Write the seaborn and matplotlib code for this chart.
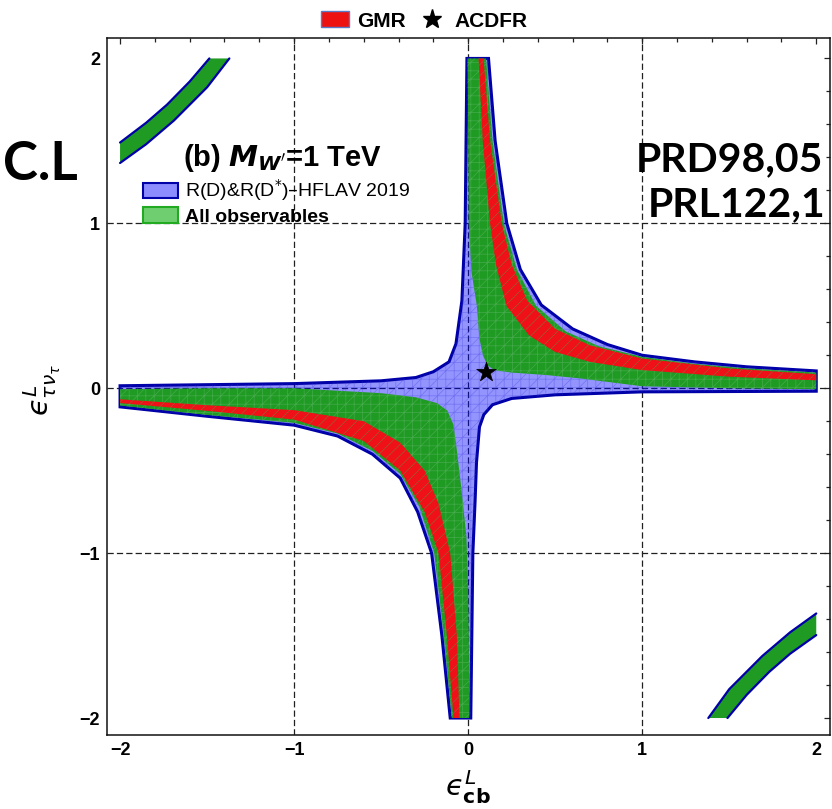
import matplotlib
matplotlib.use("Agg")
import matplotlib.pyplot as plt
import seaborn as sns
from matplotlib.patches import Patch
from matplotlib.lines import Line2D
from matplotlib.ticker import MultipleLocator, FixedLocator

# ---------------- data ----------------
ticks = [-2, -1, 0, 1, 2]

# blue region: R(D)&R(D*) - HFLAV 2019 (closed outline)
blue_x = [-0.007, 0.117, 0.155, 0.222, 0.30, 0.42, 0.60, 0.80, 1.00, 1.30, 1.60, 2.00,
          2.00, 1.00, 0.50, 0.25, 0.14, 0.09, 0.065, 0.048, 0.04, 0.027, 0.021, 0.015,
          -0.103, -0.151, -0.21, -0.29, -0.39, -0.55, -0.75, -1.00, -1.50, -2.00,
          -2.00, -1.00, -0.50, -0.30, -0.20, -0.11, -0.07, -0.036, -0.017]
blue_y = [2.0, 2.0, 1.5, 1.0, 0.72, 0.505, 0.36, 0.265, 0.20, 0.16, 0.13, 0.105,
          -0.018, -0.022, -0.04, -0.062, -0.10, -0.16, -0.235, -0.45, -0.68, -1.0, -1.5, -2.0,
          -2.0, -1.5, -1.0, -0.75, -0.545, -0.40, -0.29, -0.224, -0.17, -0.113,
          0.015, 0.028, 0.045, 0.065, 0.10, 0.16, 0.27, 0.53, 1.0]

# green region: all observables, upper-right band
green1_x = [0.103, 0.14, 0.205, 0.28, 0.39, 0.56, 0.75, 1.0, 1.3, 1.6, 2.0,
            2.0, 1.5, 1.0, 0.64, 0.45, 0.25, 0.15, 0.11, 0.085, 0.065, 0.05, 0.02, 0.003, 0.0, -0.004]
green1_y = [2.0, 1.5, 1.0, 0.72, 0.5, 0.345, 0.255, 0.19, 0.148, 0.12, 0.095,
            -0.006, 0.0, 0.012, 0.06, 0.08, 0.095, 0.11, 0.14, 0.2, 0.3, 0.5, 0.7, 1.0, 1.5, 2.0]
# green region: lower-left band
green3_x = [-2.0, -1.5, -1.0, -0.75, -0.55, -0.39, -0.28, -0.195, -0.14, -0.094,
            0.006, 0.004, 0.0, -0.01, -0.04, -0.065, -0.085, -0.12, -0.18, -0.3, -0.5, -1.0, -1.5, -2.0]
green3_y = [-0.105, -0.162, -0.21, -0.275, -0.38, -0.52, -0.72, -1.0, -1.5, -2.0,
            -2.0, -1.5, -1.2, -0.9, -0.6, -0.376, -0.22, -0.135, -0.09, -0.055, -0.03, 0.0, 0.0, -0.006]
# green corner bands
cornerA_x = [-2.0, -1.85, -1.73, -1.6, -1.487, -1.372, -1.5, -1.69, -1.85, -2.0]
cornerA_y = [1.49, 1.61, 1.72, 1.86, 2.0, 2.0, 1.825, 1.624, 1.48, 1.366]
cornerB_x = [1.38, 1.5, 1.69, 1.85, 2.0, 2.0, 1.85, 1.73, 1.6, 1.49]
cornerB_y = [-2.0, -1.825, -1.624, -1.48, -1.366, -1.497, -1.61, -1.72, -1.86, -2.0]

# red region: GMR
red1_x = [0.088, 0.126, 0.193, 0.25, 0.34, 0.5, 0.7, 1.0, 1.5, 2.0,
          2.0, 1.5, 1.0, 0.7, 0.5, 0.35, 0.22, 0.16, 0.126, 0.084, 0.06]
red1_y = [2.0, 1.5, 1.0, 0.75, 0.53, 0.36, 0.26, 0.18, 0.12, 0.085,
          0.048, 0.07, 0.11, 0.16, 0.22, 0.32, 0.5, 0.75, 1.0, 1.5, 2.0]
red3_x = [-0.084, -0.122, -0.17, -0.25, -0.39, -0.6, -1.0, -1.5, -2.0,
          -2.0, -1.5, -1.0, -0.6, -0.39, -0.25, -0.17, -0.103, -0.065, -0.05]
red3_y = [-2.0, -1.5, -1.0, -0.75, -0.5, -0.32, -0.19, -0.137, -0.09,
          -0.067, -0.103, -0.133, -0.2, -0.33, -0.5, -0.7, -1.0, -1.5, -2.0]

# ACDFR point
star_x = [0.1]
star_y = [0.1]

# ---------------- style ----------------
sns.set_theme(style="white")
plt.rcParams['font.family'] = ['Liberation Sans', 'DejaVu Sans']
plt.rcParams['mathtext.fontset'] = 'dejavusans'
plt.rcParams['hatch.linewidth'] = 0.5
plt.rcParams['text.color'] = 'black'
plt.rcParams['axes.labelcolor'] = 'black'
plt.rcParams['xtick.color'] = 'black'
plt.rcParams['ytick.color'] = 'black'
plt.rcParams['legend.labelcolor'] = 'black'

BLUE_FACE = (0.0, 0.0, 1.0, 0.42)
BLUE_EDGE = '#0000a8'
GREEN = '#1f9a22'
RED = '#f01018'

fig = plt.figure(figsize=(8.32, 8.09), dpi=100)
ax = fig.add_axes([107/832, 1 - 735/809, 723/832, 697/809])
ax.set_xlim(-2.075, 2.079)
ax.set_ylim(-2.103, 2.124)

# gridlines (inner major ticks)
for t in ticks[1:-1]:
    ax.axvline(t, color='#202020', lw=0.9, ls=(0, (5, 2.5)), zorder=0.5)
    ax.axhline(t, color='#202020', lw=0.9, ls=(0, (5, 2.5)), zorder=0.5)

# blue
ax.fill(blue_x, blue_y, facecolor=BLUE_FACE, edgecolor=BLUE_EDGE, lw=2.2, zorder=1)
ax.fill(blue_x, blue_y, facecolor='none', edgecolor=(0.2, 0.2, 0.85, 0.35), lw=0,
        hatch='++//', zorder=1.1)

# green
for gx, gy in [(green1_x, green1_y), (green3_x, green3_y)]:
    ax.fill(gx, gy, facecolor=GREEN, edgecolor='none', lw=0, zorder=2)
    ax.fill(gx, gy, facecolor='none', edgecolor=(0.45, 0.75, 0.5, 0.45), lw=0,
            hatch='++//', zorder=2.1)
for cx, cy in [(cornerA_x, cornerA_y), (cornerB_x, cornerB_y)]:
    ax.fill(cx, cy, facecolor=GREEN, edgecolor='none', lw=0, zorder=2)
    n = len(cx) // 2
    ax.plot(cx[:n], cy[:n], color=BLUE_EDGE, lw=1.6, zorder=2.2)
    ax.plot(cx[n:], cy[n:], color=BLUE_EDGE, lw=1.6, zorder=2.2)

# red
for rx, ry in [(red1_x, red1_y), (red3_x, red3_y)]:
    ax.fill(rx, ry, facecolor=RED, edgecolor='none', lw=0, zorder=3)
    ax.fill(rx, ry, facecolor='none', edgecolor=(0.35, 0.6, 0.25, 0.55), lw=0,
            hatch='///', zorder=3.1)

# star
sns.scatterplot(x=star_x, y=star_y, marker='*', s=220, color='black',
                edgecolor='black', linewidth=0.5, ax=ax, zorder=6, legend=False)

# ticks
ax.xaxis.set_major_locator(FixedLocator(ticks))
ax.yaxis.set_major_locator(FixedLocator(ticks))
ax.xaxis.set_minor_locator(MultipleLocator(0.2))
ax.yaxis.set_minor_locator(MultipleLocator(0.2))
ax.tick_params(which='both', direction='in', top=True, right=True,
               labeltop=False, labelright=False, color='#222222', labelcolor='black',
               width=0.9)
ax.tick_params(which='major', length=4.0, labelsize=13, pad=5)
ax.tick_params(which='minor', length=3.2)
for lab in ax.get_xticklabels() + ax.get_yticklabels():
    lab.set_fontweight('bold')
for sp in ax.spines.values():
    sp.set_color('#111111')
    sp.set_linewidth(1.1)

# axis labels
ax.set_xlabel('$\u03f5^{L}_{\\mathbf{cb}}$', fontsize=21, color='black')
ax.xaxis.set_label_coords(0.4993, -0.048)
ax.set_ylabel('$\u03f5^{L}_{\\tau\\nu_\\tau}$', fontsize=21, color='black')
ax.yaxis.set_label_coords(-0.061, 0.495)

# inner legend
ax.text(0.105, 0.828, r"(b) $\mathbfit{M}_{\mathbfit{W}'}$=1 TeV", transform=ax.transAxes,
        fontsize=21, fontweight='bold', ha='left', va='center', zorder=7, color='black')
leg_in = ax.legend(handles=[Patch(facecolor=(0.55, 0.55, 1.0), edgecolor=BLUE_EDGE, lw=1.5),
                            Patch(facecolor='#6fcf70', edgecolor='#22aa22', lw=1.5)],
                   labels=[r'R(D)&R(D$^{*}$)–HFLAV 2019', 'All observables'],
                   loc='upper left', bbox_to_anchor=(0.0498, 0.80), borderaxespad=0,
                   borderpad=0, frameon=False, fontsize=14, handlelength=1.8,
                   handleheight=0.85, handletextpad=0.36, labelspacing=0.2)
leg_in.get_texts()[1].set_fontweight('bold')
leg_in.set_zorder(7)

# top legend
fig.legend(handles=[Patch(facecolor='#ee1111', edgecolor='#5a7ac8', lw=1.0),
                    Line2D([], [], marker='*', color='black', ls='none', markersize=14)],
           labels=['GMR', 'ACDFR'], loc='center', bbox_to_anchor=(0.51, 0.974),
           ncol=2, frameon=False, prop={'weight': 'bold', 'size': 15},
           handlelength=1.35, handleheight=0.8, handletextpad=0.4, columnspacing=0.6,
           borderpad=0)

# annotations outside the axes
fig.text(0.004, 1 - 165/809, 'C.L', fontsize=38, fontweight='bold', color='black',
         family=['Lato', 'DejaVu Sans'], ha='left', va='center')
fig.text(636/832, 1 - 160/809, 'PRD98,05', fontsize=29.5, fontweight='bold', color='black',
         family=['Lato', 'DejaVu Sans'], ha='left', va='center', zorder=8)
fig.text(648/832, 1 - 205/809, 'PRL122,1', fontsize=29.5, fontweight='bold', color='black',
         family=['Lato', 'DejaVu Sans'], ha='left', va='center', zorder=8)

fig.savefig('out.png', dpi=100)
